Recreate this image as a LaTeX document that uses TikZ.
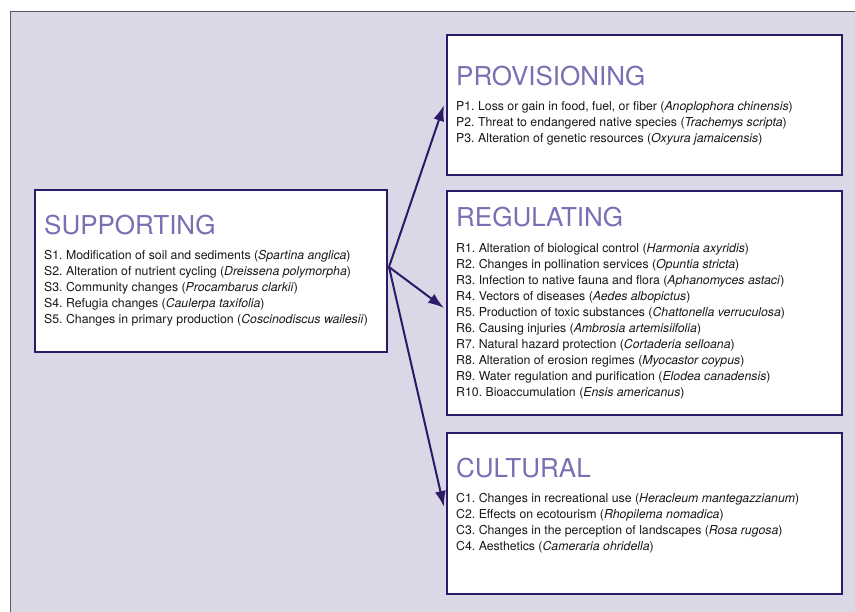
\documentclass[tikz,border=0pt]{standalone}
\usepackage{fontspec}
\setmainfont{TeX Gyre Heros}
\usetikzlibrary{arrows.meta, calc, positioning}
\definecolor{bgpurple}{HTML}{DAD8E7}
\definecolor{framepurple}{HTML}{2C1A66}
\definecolor{titlepurple}{HTML}{7A6FB2}
\definecolor{textgray}{HTML}{1A1718}
\frenchspacing
\tikzset{
	service/.style = {rectangle, draw=framepurple, fill=white, line width=2pt, inner sep=0pt},
	heading/.style = {anchor=base west, inner sep=0pt, text=titlepurple, font=\fontsize{26}{26}\selectfont},
	items/.style = {anchor=north west, inner sep=0pt, align=left, text=textgray, font=\fontsize{12.3}{16}\selectfont},
	link/.style = {-{Latex[length=16pt, width=11pt]}, draw=framepurple, line width=2pt}
}

\begin{document}
\begin{tikzpicture}[x=1pt, y=-1pt]
	\useasboundingbox (0,0) rectangle (855,612);
	% background panel
	\fill[bgpurple] (10,12) rectangle (855,612);
	\draw[black!65, line width=1pt] (10,612) -- (10,12) -- (855,12);
	
	% boxes
	\node[service, minimum width=352, minimum height=162] (supp) at (211,271) {};
	\node[service, minimum width=395, minimum height=140] (prov) at (644.5,105) {};
	\node[service, minimum width=395, minimum height=224] (reg) at (644.5,303) {};
	\node[service, minimum width=395, minimum height=161] (cult) at (644.5,513.5) {};
	
	% supporting
	\node[heading] (supptitle) at (44,235) {SUPPORTING};
	\node[items] (supplist) at (44,250) {S1. Modification of soil and sediments (\textit{Spartina anglica})\\
		S2. Alteration of nutrient cycling (\textit{Dreissena polymorpha})\\
		S3. Community changes (\textit{Procambarus clarkii})\\
		S4. Refugia changes (\textit{Caulerpa taxifolia})\\
		S5. Changes in primary production (\textit{Coscinodiscus wailesii})};
	
	% provisioning
	\node[heading] (provtitle) at (456,85.5) {PROVISIONING};
	\node[items] (provlist) at (456,101) {P1. Loss or gain in food, fuel, or fiber (\textit{Anoplophora chinensis})\\
		P2. Threat to endangered native species (\textit{Trachemys scripta})\\
		P3. Alteration of genetic resources (\textit{Oxyura jamaicensis})};
	
	% regulating
	\node[heading] (regtitle) at (456,227) {REGULATING};
	\node[items] (reglist) at (456,243.5) {R1. Alteration of biological control (\textit{Harmonia axyridis})\\
		R2. Changes in pollination services (\textit{Opuntia stricta})\\
		R3. Infection to native fauna and flora (\textit{Aphanomyces astaci})\\
		R4. Vectors of diseases (\textit{Aedes albopictus})\\
		R5. Production of toxic substances (\textit{Chattonella verruculosa})\\
		R6. Causing injuries (\textit{Ambrosia artemisiifolia})\\
		R7. Natural hazard protection (\textit{Cortaderia selloana})\\
		R8. Alteration of erosion regimes (\textit{Myocastor coypus})\\
		R9. Water regulation and purification (\textit{Elodea canadensis})\\
		R10. Bioaccumulation (\textit{Ensis americanus})};
	
	% cultural
	\node[heading] (culttitle) at (456,478) {CULTURAL};
	\node[items] (cultlist) at (456,493.5) {C1. Changes in recreational use (\textit{Heracleum mantegazzianum})\\
		C2. Effects on ecotourism (\textit{Rhopilema nomadica})\\
		C3. Changes in the perception of landscapes (\textit{Rosa rugosa})\\
		C4. Aesthetics (\textit{Cameraria ohridella})};
	
	% Directed edges
	\coordinate (hub) at ($(supp.east)+(1,-4)$);
	\draw[link] (hub) -- ($(prov.west)+(-2,0)$);
	\draw[link] (hub) -- ($(reg.west)+(-2,5)$);
	\draw[link] (hub) -- ($(cult.west)+(-2,-6.5)$);
\end{tikzpicture}
\end{document}
